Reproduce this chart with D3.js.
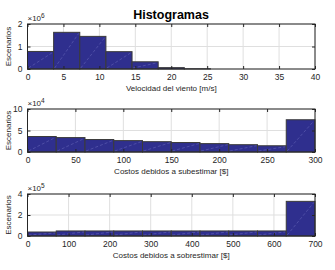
<!DOCTYPE html>
<html>
<head>
<meta charset="utf-8">
<script src="https://cdn.jsdelivr.net/npm/d3@7"></script>
<style>
  body { margin: 0; background: #fff; }
  text { font-family: "Liberation Sans", Arial, sans-serif; fill: #262626; }
</style>
</head>
<body>
<svg width="335" height="270"></svg>
<script>
// bin counts (in units of the axis exponent)
const vientoEdges = d3.range(12).map(i => i * 40 / 11)
const vientoCounts = [0.78, 1.63, 1.45, 0.77, 0.32, 0.06, 0.01, 0, 0, 0, 0]
const subEdges = d3.range(11).map(i => i * 30)
const subCounts = [3.6, 3.35, 2.9, 2.65, 2.4, 2.2, 1.95, 1.7, 1.45, 7.5]
const sobreEdges = d3.range(11).map(i => i * 70)
const sobreCounts = [0.38, 0.48, 0.48, 0.48, 0.48, 0.48, 0.48, 0.48, 0.48, 3.3]

const panels = [
  {edges: vientoEdges, counts: vientoCounts, xDom: [0, 40], xTicks: d3.range(0, 41, 5),
   yDom: [0, 2], yTicks: [0, 1, 2], exp: "6", label: "Velocidad del viento [m/s]", top: 24, bottom: 69},
  {edges: subEdges, counts: subCounts, xDom: [0, 300], xTicks: d3.range(0, 301, 50),
   yDom: [0, 10], yTicks: [0, 5, 10], exp: "4", label: "Costos debidos a subestimar [$]", top: 109, bottom: 152},
  {edges: sobreEdges, counts: sobreCounts, xDom: [0, 700], xTicks: d3.range(0, 701, 100),
   yDom: [0, 4], yTicks: [0, 2, 4], exp: "5", label: "Costos debidos a sobrestimar [$]", top: 194, bottom: 236}
]

const left = 27.5, right = 315
const svg = d3.select("svg")

svg.append("text").attr("x", 171).attr("y", 19)
  .attr("text-anchor", "middle").style("font-size", "12.5px").style("font-weight", "bold")
  .style("fill", "#000").text("Histogramas")

panels.forEach(p => {
  const x = d3.scaleLinear().domain(p.xDom).range([left, right])
  const y = d3.scaleLinear().domain(p.yDom).range([p.bottom, p.top])
  const g = svg.append("g")

  // grid
  g.selectAll(".gx").data(p.xTicks).enter().append("line")
    .attr("x1", d => x(d)).attr("x2", d => x(d)).attr("y1", p.top).attr("y2", p.bottom)
    .attr("stroke", "#dfdfdf").attr("stroke-width", 1)
  g.selectAll(".gy").data(p.yTicks).enter().append("line")
    .attr("x1", left).attr("x2", right).attr("y1", d => y(d)).attr("y2", d => y(d))
    .attr("stroke", "#dfdfdf").attr("stroke-width", 1)

  // bars
  const bins = p.counts.map((c, i) => ({x0: p.edges[i], x1: p.edges[i + 1], c}))
  g.selectAll(".bar").data(bins).enter().append("rect")
    .attr("x", d => x(d.x0)).attr("width", d => x(d.x1) - x(d.x0))
    .attr("y", d => y(d.c)).attr("height", d => p.bottom - y(d.c))
    .attr("fill", "#2f2f8e").attr("stroke", "#3a3a3a").attr("stroke-width", 1)
  // faint render diagonals
  g.selectAll(".diag").data(bins.filter(d => d.c > 0.1)).enter().append("line")
    .attr("x1", d => x(d.x0) + 1).attr("y1", p.bottom - 1)
    .attr("x2", d => x(d.x1) - 1).attr("y2", d => y(d.c) + 1)
    .attr("stroke", "rgba(160,160,230,0.45)").attr("stroke-width", 0.6)
    .attr("stroke-dasharray", "3,2")

  // box
  g.append("rect").attr("x", left).attr("y", p.top)
    .attr("width", right - left).attr("height", p.bottom - p.top)
    .attr("fill", "none").attr("stroke", "#262626").attr("stroke-width", 1)

  // axes with inward ticks
  const xAxis = d3.axisBottom(x).tickValues(p.xTicks).tickSize(-3).tickPadding(5)
  const yAxis = d3.axisLeft(y).tickValues(p.yTicks).tickFormat(d3.format("d")).tickSize(-3).tickPadding(5)
  const ax = g.append("g").attr("transform", `translate(0,${p.bottom})`).call(xAxis)
  const ay = g.append("g").attr("transform", `translate(${left},0)`).call(yAxis)
  g.append("g").attr("transform", `translate(0,${p.top})`)
    .call(d3.axisTop(x).tickValues(p.xTicks).tickSize(-3).tickFormat(""))
  g.append("g").attr("transform", `translate(${right},0)`)
    .call(d3.axisRight(y).tickValues(p.yTicks).tickSize(-3).tickFormat(""))
  g.selectAll(".domain").remove()
  g.selectAll(".tick line").attr("stroke", "#262626")
  ax.selectAll("text").style("font-size", "8.5px").style("font-family", "'Liberation Sans', Arial, sans-serif").attr("fill", "#262626")
  ay.selectAll("text").style("font-size", "8.5px").style("font-family", "'Liberation Sans', Arial, sans-serif").attr("fill", "#262626")

  // exponent
  const e = g.append("text").attr("x", left).attr("y", p.top - 3).style("font-size", "8px")
  e.append("tspan").text("\u00d710")
  e.append("tspan").attr("dy", -3).style("font-size", "6.5px").text(p.exp)

  // labels
  g.append("text").attr("x", (left + right) / 2).attr("y", p.bottom + 22)
    .attr("text-anchor", "middle").style("font-size", "8px").text(p.label)
  g.append("text").attr("transform", `translate(11,${(p.top + p.bottom) / 2}) rotate(-90)`)
    .attr("text-anchor", "middle").style("font-size", "8px").text("Escenarios")
})
</script>
</body>
</html>
